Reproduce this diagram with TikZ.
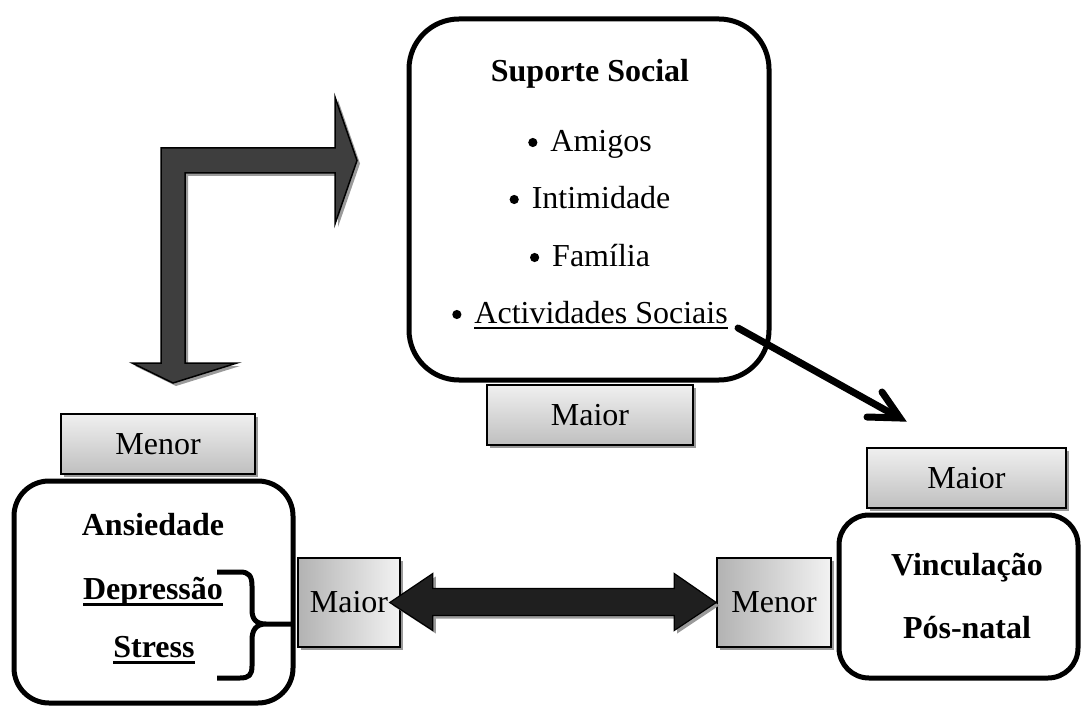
\documentclass[tikz,border=0pt]{standalone}
\usepackage{fontspec}
\setmainfont{Liberation Serif}
\usetikzlibrary{calc,shadows}
% underline with a chosen offset and thickness: \undl{offset}{thickness}{text}
\newcommand\undl[3]{\setbox0=\hbox{#3}\rlap{\rule[#1]{\wd0}{#2}}\box0}
% round list bullet
\newcommand\bul{\tikz[baseline=-9.5pt]\fill (0,0) circle (4.6pt);\hspace{13pt}}
\definecolor{arrowgrey}{HTML}{3E3E3E}
\definecolor{arrowdark}{HTML}{1F1F1F}
\definecolor{shadowgrey}{HTML}{9A9A9A}

\begin{document}
\begin{tikzpicture}[x=1pt,y=-1pt,
  font=\fontsize{32}{38}\selectfont,
  bigbox/.style={draw, line width=5pt, fill=white, inner sep=0pt},
  tagbox/.style={draw, line width=1.6pt, inner sep=0pt,
    drop shadow={shadow xshift=3pt, shadow yshift=-3pt, fill=shadowgrey, opacity=1}},
  vgrad/.style={top color=black!6, bottom color=black!25},
  hgrad/.style={left color=black!30, right color=black!5},
  txt/.style={anchor=base, inner sep=0pt},
  hd/.style={txt, font=\fontsize{32}{38}\selectfont\bfseries},
]
\useasboundingbox (0,0) rectangle (1081,708);

% ---------- bent arrow (up-left corner, heads right and down) ----------
\coordinate (b1) at (161,363);
\coordinate (b2) at (161,148);
\coordinate (b3) at (335,148);
\coordinate (b4) at (335,97);
\coordinate (bR) at (357,160.5);
\coordinate (b5) at (335,224);
\coordinate (b6) at (335,173);
\coordinate (b7) at (185,173);
\coordinate (b8) at (185,363);
\coordinate (b9) at (237,363);
\coordinate (bD) at (173,383);
\coordinate (b10) at (132,363);
\fill[shadowgrey, transform canvas={xshift=3pt, yshift=-3pt}]
  (b1) -- (b2) -- (b3) -- (b4) -- (bR) -- (b5) -- (b6) -- (b7) -- (b8) -- (b9) -- (bD) -- (b10) -- cycle;
\filldraw[fill=arrowgrey, draw=black, line width=1.5pt, line join=miter]
  (b1) -- (b2) -- (b3) -- (b4) -- (bR) -- (b5) -- (b6) -- (b7) -- (b8) -- (b9) -- (bD) -- (b10) -- cycle;

% ---------- Suporte Social ----------
\node[bigbox, minimum width=360pt, minimum height=361pt, rounded corners=50pt] (sup) at (589,199.5) {};
\node[hd] (supT) at (590,82) {Suporte Social};
\node[txt] (ami) at (590,152) {\bul Amigos};
\node[txt] (int) at (590,209) {\bul Intimidade};
\node[txt] (fam) at (590,267) {\bul Família};
\node[txt] (act) at (590,324) {\bul\undl{-5.5pt}{2pt}{Actividades Sociais}};
\node[tagbox, vgrad, minimum width=206pt, minimum height=60pt] (m1) at (590,415) {Maior};

% ---------- Ansiedade / Depressão / Stress ----------
\node[tagbox, vgrad, minimum width=194pt, minimum height=60pt] (m2) at (158,444) {Menor};
\node[bigbox, minimum width=279pt, minimum height=222pt, rounded corners=35pt] (anx) at (153.5,592) {};
\node[hd] (anxT) at (153,535) {Ansiedade};
\node[hd] (dep) at (153,599) {\undl{-7pt}{3pt}{Depressão}};
\node[hd] (str) at (154,657) {\undl{-7pt}{3pt}{Stress}};
% brace grouping Depressão and Stress
\draw[line width=5pt, line cap=butt, line join=round]
  (217,572) -- (240,572) .. controls (249,572) and (252,576) .. (252,586) -- (252,610)
  .. controls (252,619) and (256,624) .. (266,624) -- (292,624)
  (266,624) .. controls (256,624) and (252,630) .. (252,640) -- (252,666)
  .. controls (252,675) and (249,678) .. (240,678) -- (217,678);

% ---------- Vinculação Pós-natal ----------
\node[tagbox, vgrad, minimum width=199pt, minimum height=60pt] (m5) at (966.5,478) {Maior};
\node[bigbox, minimum width=239pt, minimum height=163pt, rounded corners=30pt] (vin) at (958.5,596.5) {};
\node[hd] (vinT) at (967,575) {Vinculação};
\node[hd] (pos) at (967,638) {Pós-natal};

% ---------- middle tags and double arrow ----------
\node[tagbox, hgrad, minimum width=102pt, minimum height=89pt] (m3) at (349,602.5) {Maior};
\node[tagbox, hgrad, minimum width=114pt, minimum height=89pt] (m4) at (774,602.5) {Menor};
\coordinate (dl) at ($(m3.east)+(-11,0)$);
\coordinate (dr) at (m4.west);
\fill[shadowgrey, transform canvas={xshift=3pt, yshift=-3pt}]
  (dl) -- ($(dl)+(43,-29)$) -- ($(dl)+(43,-14)$) -- ($(dr)+(-42,-14)$) -- ($(dr)+(-42,-29)$)
  -- (dr) -- ($(dr)+(-42,28)$) -- ($(dr)+(-42,13)$) -- ($(dl)+(43,13)$) -- ($(dl)+(43,28)$) -- cycle;
\filldraw[fill=arrowdark, draw=black, line width=1.2pt]
  (dl) -- ($(dl)+(43,-29)$) -- ($(dl)+(43,-14)$) -- ($(dr)+(-42,-14)$) -- ($(dr)+(-42,-29)$)
  -- (dr) -- ($(dr)+(-42,28)$) -- ($(dr)+(-42,13)$) -- ($(dl)+(43,13)$) -- ($(dl)+(43,28)$) -- cycle;

% ---------- arrow from Actividades Sociais towards Vinculação ----------
\coordinate (ds) at (738,328);
\coordinate (dt) at (900,418);
\draw[line width=7pt, line cap=round] (ds) -- ($(dt)+(-4,-2)$);
\draw[line width=7pt, line cap=round, line join=miter]
  ($(dt)+(-18,-26)$) -- (dt) -- ($(dt)+(-33,-1)$);
\end{tikzpicture}
\end{document}
